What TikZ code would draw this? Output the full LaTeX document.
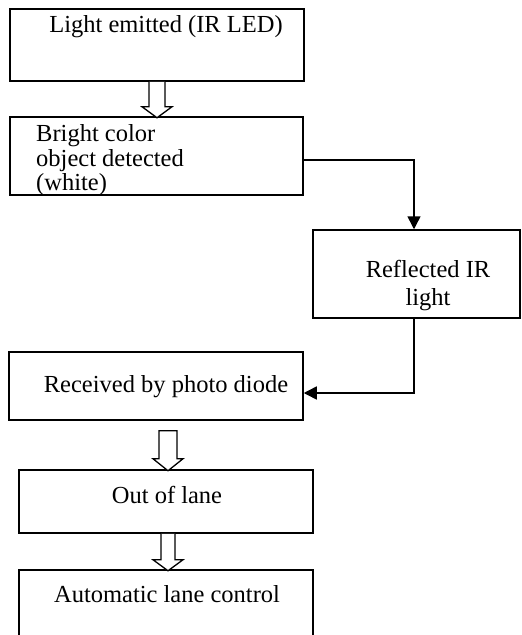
\documentclass[tikz,border=0pt]{standalone}
\usepackage{fontspec}
\setmainfont{Liberation Serif}
\usetikzlibrary{arrows.meta,calc}
\begin{document}
\begin{tikzpicture}[x=1pt,y=-1pt,
  box/.style={draw,line width=1.5pt,rectangle,inner sep=0pt},
  txt/.style={inner sep=0pt,font=\fontsize{24.5}{24.5}\selectfont},
  flow/.style={line width=1.5pt,-{Triangle[length=13pt,width=13pt]}},
  harrowline/.style={line width=1.3pt,fill=white,line join=miter},
  pics/harrow/.style args={#1/#2}{code={
    \draw[harrowline] (-#2,0) -- (-#2,#1-11) -- (-15,#1-11) -- (0,#1) -- (15,#1-11) -- (#2,#1-11) -- (#2,0);}},
  pics/harrowc/.style args={#1/#2}{code={
    \draw[harrowline] (-#2,0) -- (-#2,#1-12) -- (-15,#1-12) -- (0,#1) -- (15,#1-12) -- (#2,#1-12) -- (#2,0) -- cycle;}}
]
\useasboundingbox (0,0) rectangle (522,635);
\clip (0,0) rectangle (522,635);

% boxes
\node[box,minimum width=294pt,minimum height=72pt] (b1) at (157,45) {};
\node[box,minimum width=293pt,minimum height=78pt] (b2) at (156.5,156) {};
\node[box,minimum width=207pt,minimum height=88pt] (b3) at (416.5,274) {};
\node[box,minimum width=294pt,minimum height=68pt] (b4) at (156,386) {};
\node[box,minimum width=294pt,minimum height=63pt] (b5) at (166,501.5) {};
\node[box,minimum width=294pt,minimum height=90pt] (b6) at (166,615) {};

% texts
\node[txt,anchor=base] (t1) at (166,32) {Light emitted (IR LED)};
\node[txt,anchor=base west] (t2a) at (36,141) {Bright color};
\node[txt,anchor=base west] (t2b) at (36,166) {object detected};
\node[txt,anchor=base west] (t2c) at (36,190) {(white)};
\node[txt,anchor=base] (t3a) at (428,277) {Reflected IR};
\node[txt,anchor=base] (t3b) at (428,305) {light};
\node[txt,anchor=base] (t4) at (166,392) {Received by photo diode};
\node[txt,anchor=base] (t5) at (167,503) {Out of lane};
\node[txt,anchor=base] (t6) at (167,602) {Automatic lane control};

% hollow arrows
\pic at (b1.south) {harrow=36/8};
\pic at ($(b4.south)+(12,10)$) {harrowc=40/9};
\pic at ($(b5.south)+(2,0)$) {harrow=37/7};

% solid connectors
\draw[flow] (b2.east |- 0,160) -| ([xshift=-2.5pt]b3.north);
\draw[flow] ([xshift=-2.5pt]b3.south) |- (b4.east |- 0,393);
\end{tikzpicture}
\end{document}
